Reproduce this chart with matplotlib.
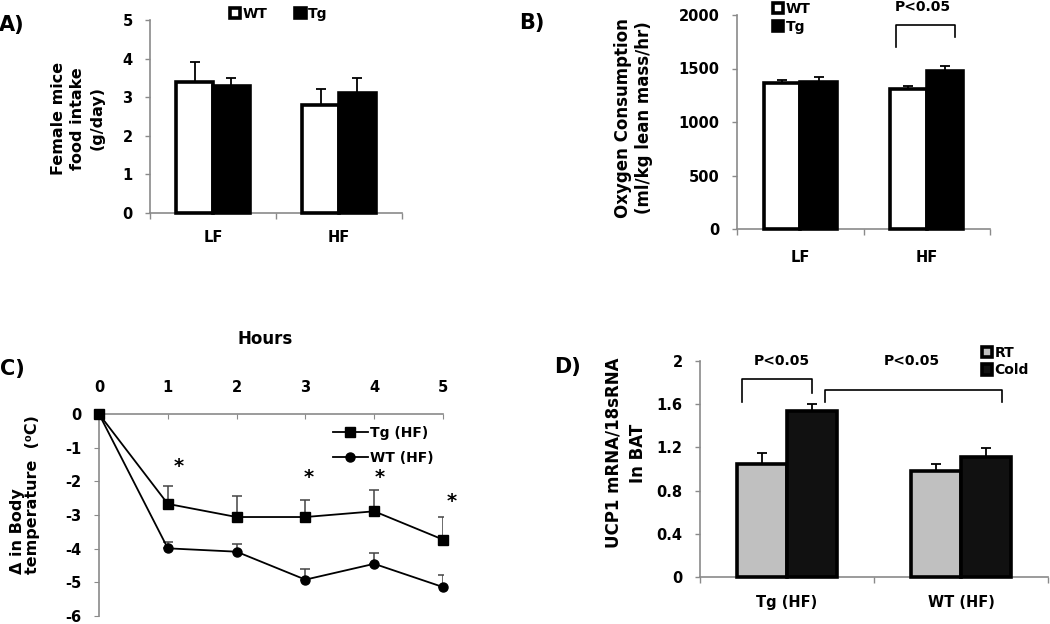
import numpy as np
import matplotlib
matplotlib.use("Agg")
import matplotlib.pyplot as plt

plt.rcParams['font.family'] = ['DejaVu Sans']
plt.rcParams['font.weight'] = 'bold'
plt.rcParams['axes.unicode_minus'] = False

# ---- data ----
diet = ['LF', 'HF']
food_wt = [3.4, 2.8]
food_wt_err = [0.5, 0.4]
food_tg = [3.3, 3.1]
food_tg_err = [0.2, 0.4]

o2_wt = [1360, 1310]
o2_wt_err = [30, 30]
o2_tg = [1375, 1480]
o2_tg_err = [50, 40]

hours = [0, 1, 2, 3, 4, 5]
temp_tg = [0, -2.67, -3.06, -3.06, -2.89, -3.73]
temp_tg_err = [0, 0.52, 0.62, 0.52, 0.63, 0.67]
temp_wt = [0, -3.99, -4.09, -4.92, -4.45, -5.14]
temp_wt_err = [0, 0.19, 0.22, 0.31, 0.32, 0.35]
star_x = [1.16, 3.05, 4.08, 5.12]
star_y = [-1.55, -1.9, -1.9, -2.6]

groups_d = ['Tg (HF)', 'WT (HF)']
ucp_rt = [1.05, 0.98]
ucp_rt_err = [0.10, 0.07]
ucp_cold = [1.54, 1.11]
ucp_cold_err = [0.06, 0.08]

SPINE = '#8a8a8a'
W = 0.29


def style_axes(ax):
    for s in ['top', 'right']:
        ax.spines[s].set_visible(False)
    for s in ['left', 'bottom']:
        ax.spines[s].set_color(SPINE)
        ax.spines[s].set_linewidth(1.2)
    ax.tick_params(axis='y', colors=SPINE, labelcolor='black', length=3.5,
                   width=1, labelsize=10.5, pad=9)


def bar_panel(ax, cats, left_vals, left_err, right_vals, right_err,
              cols, labels, ymax, pad=15):
    x = np.arange(len(cats)) + 0.5
    b1 = ax.bar(x - W / 2, left_vals, W, color=cols[0], edgecolor='black',
                linewidth=2.6, label=labels[0], zorder=3, clip_on=False)
    b2 = ax.bar(x + W / 2, right_vals, W, color=cols[1], edgecolor='black',
                linewidth=2.6, label=labels[1], zorder=3, clip_on=False)
    ax.errorbar(x - W / 2, left_vals, yerr=[np.zeros(len(cats)), left_err],
                fmt='none', ecolor='black', elinewidth=1.3, capsize=3.5,
                capthick=1.3, zorder=2)
    ax.errorbar(x + W / 2, right_vals, yerr=[np.zeros(len(cats)), right_err],
                fmt='none', ecolor='black', elinewidth=1.3, capsize=3.5,
                capthick=1.3, zorder=2)
    ax.set_xlim(0, len(cats))
    ax.set_ylim(0, ymax)
    style_axes(ax)
    ax.set_xticks(np.arange(len(cats) + 1))
    ax.set_xticklabels([])
    ax.set_xticks(x, minor=True)
    ax.set_xticklabels(cats, minor=True, fontsize=10.5, fontweight='bold')
    ax.tick_params(axis='x', which='major', colors=SPINE, length=4, width=1)
    ax.tick_params(axis='x', which='minor', length=0, pad=pad)
    return b1, b2


fig = plt.figure(figsize=(10.5, 6.24), dpi=100)

# ---------------- A ----------------
axA = fig.add_axes([150 / 1050, 1 - 213 / 624, 252 / 1050, 193 / 624])
bar_panel(axA, diet, food_wt, food_wt_err, food_tg, food_tg_err,
          ['white', 'black'], ['WT', 'Tg'], 5, pad=12)
axA.set_yticks(range(0, 6))
axA.text(-0.286, 0.49, 'Female mice\nfood intake\n(g/day)', transform=axA.transAxes,
         rotation=90, ha='center', va='center', fontsize=11.5, linespacing=1.35)
axA.legend(loc='center', bbox_to_anchor=(0.51, 1.03), ncol=2, frameon=False,
           handlelength=0.75, handleheight=0.75, handletextpad=0.15,
           columnspacing=2.0, fontsize=10, borderpad=0, borderaxespad=0)
fig.text(12 / 1050, 1 - 25 / 624, 'A)', fontsize=15, ha='center', va='center')

# ---------------- B ----------------
axB = fig.add_axes([737 / 1050, 1 - 229 / 624, 253 / 1050, 214 / 624])
bar_panel(axB, diet, o2_wt, o2_wt_err, o2_tg, o2_tg_err,
          ['white', 'black'], ['WT', 'Tg'], 2000)
axB.set_yticks(range(0, 2001, 500))
axB.text(-0.41, 0.52, 'Oxygen Consumption\n(ml/kg lean mass/hr)', transform=axB.transAxes,
         rotation=90, ha='center', va='center', fontsize=12, linespacing=1.25)
axB.legend(loc='upper left', bbox_to_anchor=(0.142, 1.06), ncol=1, frameon=False,
           handlelength=0.75, handleheight=0.75, handletextpad=0.15,
           labelspacing=0.25, fontsize=10, borderpad=0, borderaxespad=0)
axB.plot([1.257, 1.257, 1.723, 1.723], [1700, 1906, 1906, 1795], color='black',
         lw=1.2, clip_on=False)
axB.text(1.47, 2075, 'P<0.05', ha='center', va='center', fontsize=10)
fig.text(532 / 1050, 1 - 23 / 624, 'B)', fontsize=15, ha='center', va='center')

# ---------------- C ----------------
axC = fig.add_axes([99 / 1050, 1 - 616 / 624, 344 / 1050, 202 / 624])
axC.errorbar(hours, temp_tg, yerr=[np.zeros(6), temp_tg_err], fmt='none',
             ecolor='#444444', elinewidth=1.1, capsize=3.5, capthick=1.1, zorder=2)
axC.errorbar(hours, temp_wt, yerr=[np.zeros(6), temp_wt_err], fmt='none',
             ecolor='#444444', elinewidth=1.1, capsize=3.5, capthick=1.1, zorder=2)
axC.plot(hours, temp_tg, '-s', color='black', lw=1.3, ms=6.5, label='Tg (HF)',
         clip_on=False, zorder=4)
axC.plot(hours, temp_wt, '-o', color='black', lw=1.3, ms=6.5, label='WT (HF)',
         clip_on=False, zorder=4)
for sx, sy in zip(star_x, star_y):
    axC.text(sx, sy, '*', ha='center', va='center', fontsize=14)
axC.set_xlim(0, 5)
axC.set_ylim(-6, 0)
axC.spines['bottom'].set_visible(False)
axC.spines['right'].set_visible(False)
axC.spines['top'].set_color(SPINE)
axC.spines['left'].set_color(SPINE)
axC.spines['top'].set_linewidth(1.2)
axC.spines['left'].set_linewidth(1.2)
axC.xaxis.tick_top()
axC.set_xticks(hours)
axC.tick_params(axis='x', direction='in', colors=SPINE, labelcolor='black',
                length=3.5, labelsize=10.5, pad=14)
axC.tick_params(axis='y', colors=SPINE, labelcolor='black', length=3.5,
                labelsize=10.5, pad=9)
axC.set_yticks(range(-6, 1))
axC.text(0.483, 1.37, 'Hours', transform=axC.transAxes, ha='center',
         va='center', fontsize=12)
axC.text(-0.215, 0.6, '\u0394 in Body\ntemperature  (\u2070C)', transform=axC.transAxes,
         rotation=90, ha='center', va='center', fontsize=11.5, linespacing=1.05,
         multialignment='left')
axC.legend(loc='upper left', bbox_to_anchor=(0.68, 0.94), frameon=False,
           handlelength=2.5, handletextpad=0.2, labelspacing=0.75, fontsize=10,
           borderpad=0, borderaxespad=0)
fig.text(12 / 1050, 1 - 369 / 624, 'C)', fontsize=15, ha='center', va='center')

# ---------------- D ----------------
axD = fig.add_axes([700 / 1050, 1 - 577 / 624, 348 / 1050, 216 / 624])
bar_panel(axD, groups_d, ucp_rt, ucp_rt_err, ucp_cold, ucp_cold_err,
          ['#c0c0c0', '#111111'], ['RT', 'Cold'], 2, pad=13)
axD.set_yticks([0, 0.4, 0.8, 1.2, 1.6, 2])
axD.set_yticklabels(['0', '0.4', '0.8', '1.2', '1.6', '2'])
axD.text(-0.213, 0.574, 'UCP1 mRNA/18sRNA\nIn BAT', transform=axD.transAxes,
         rotation=90, ha='center', va='center', fontsize=12, linespacing=1.45)
axD.legend(loc='upper left', bbox_to_anchor=(0.81, 1.07), ncol=1, frameon=False,
           handlelength=0.75, handleheight=0.75, handletextpad=0.15,
           labelspacing=0.25, fontsize=10, borderpad=0, borderaxespad=0)
axD.plot([0.241, 0.241, 0.644, 0.644], [1.62, 1.833, 1.833, 1.70], color='black',
         lw=1.2, clip_on=False)
axD.plot([0.718, 0.718, 1.736, 1.736], [1.62, 1.73, 1.73, 1.62], color='black',
         lw=1.2, clip_on=False)
axD.text(0.471, 2.0, 'P<0.05', ha='center', va='center', fontsize=10)
axD.text(1.218, 2.0, 'P<0.05', ha='center', va='center', fontsize=10)
fig.text(568 / 1050, 1 - 367 / 624, 'D)', fontsize=15, ha='center', va='center')

fig.savefig('out.png', dpi=100)
